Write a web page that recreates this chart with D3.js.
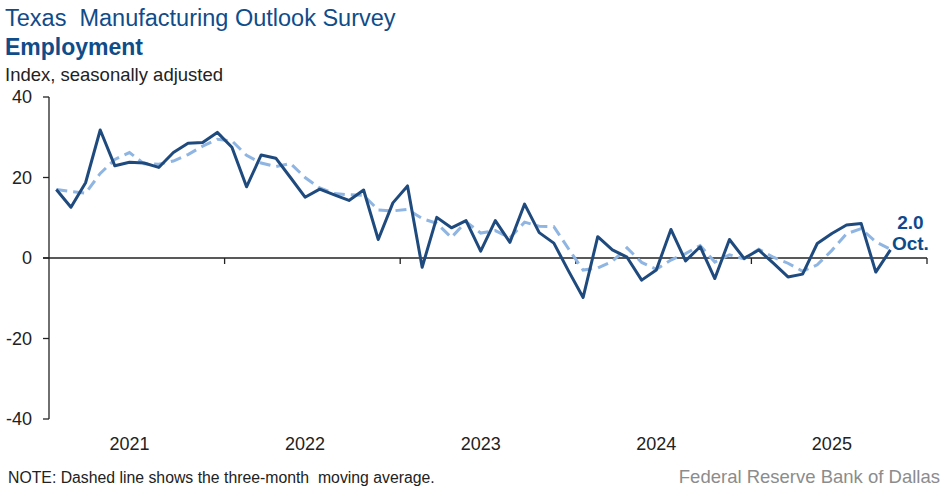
<!DOCTYPE html>
<html>
<head>
<meta charset="utf-8">
<script src="https://cdn.jsdelivr.net/npm/d3@7"></script>
<style>
  body { margin: 0; background: #fff; }
  svg { font-family: "Liberation Sans", Arial, sans-serif; }
  svg text { white-space: pre; }
</style>
</head>
<body>
<div id="chart"></div>
<script>

// monthly index, Jan 2021 .. Oct 2025
var years = ['2021', '2022', '2023', '2024', '2025'];
var yTicks = [-40, -20, 0, 20, 40];
var employment = [
  17.0, 12.6, 18.7, 31.8, 22.9, 23.8, 23.6, 22.5, 26.2, 28.5, 28.7, 31.2,
  27.5, 17.7, 25.6, 24.8, 20.0, 15.1, 17.1, 15.7, 14.3, 16.9, 4.6, 13.7,
  17.9, -2.3, 10.1, 7.5, 9.3, 1.7, 9.3, 3.9, 13.4, 6.3, 3.7, -3.2,
  -9.8, 5.3, 2.0, 0.2, -5.5, -3.0, 7.1, -0.7, 2.8, -5.1, 4.6, -0.1,
  2.0, -1.3, -4.7, -4.0, 3.6, 6.1, 8.2, 8.6, -3.5, 2.0
];
// three-month moving average (dashed)
var movingAvg = [
  17.0, 16.5, 16.1, 21.0, 24.5, 26.2, 23.4, 23.3, 24.1, 25.7, 27.8, 29.5,
  29.1, 25.5, 23.6, 22.7, 23.5, 20.0, 17.4, 16.0, 15.7, 15.6, 11.9, 11.7,
  12.1, 9.8, 8.6, 5.1, 9.0, 6.2, 6.8, 5.0, 8.9, 7.9, 7.8, 2.3,
  -3.0, -2.5, -0.8, 2.5, -1.1, -2.8, -0.5, 1.1, 3.1, -1.0, 0.8, -0.2,
  2.2, 0.2, -1.3, -3.3, -1.7, 1.9, 6.0, 7.3, 4.0, 2.2
];
var lastLabel = '2.0';
var lastMonth = 'Oct.';

var width = 949, height = 493;
var svg = d3.select('#chart').append('svg').attr('width', width).attr('height', height);

var x = d3.scaleLinear().domain([0, years.length * 12]).range([49, 927]);
var y = d3.scaleLinear().domain([-40, 40]).range([419, 97]);

// titles
svg.append('text').attr('x', 5).attr('y', 26).attr('fill', '#0f4c8a')
   .style('font-size', '23.5px').text('Texas  Manufacturing Outlook Survey');
svg.append('text').attr('x', 5).attr('y', 55).attr('fill', '#0f4c8a')
   .style('font-size', '23px').style('font-weight', 'bold').text('Employment');
svg.append('text').attr('x', 5).attr('y', 81).attr('fill', '#222')
   .style('font-size', '18.5px').text('Index, seasonally adjusted');

// y axis
svg.append('line').attr('x1', 49).attr('x2', 49).attr('y1', y(40)).attr('y2', y(-40))
   .attr('stroke', '#222').attr('stroke-width', 1.3);
svg.selectAll('.ytick').data(yTicks).enter().append('line')
   .attr('x1', 43).attr('x2', 49)
   .attr('y1', function (d) { return y(d); }).attr('y2', function (d) { return y(d); })
   .attr('stroke', '#222').attr('stroke-width', 1.3);
svg.selectAll('.ylab').data(yTicks).enter().append('text')
   .attr('x', 32).attr('y', function (d) { return y(d); }).attr('dy', '0.36em')
   .attr('text-anchor', 'end').attr('fill', '#222').style('font-size', '18px')
   .text(function (d) { return d; });

// zero line with year ticks
svg.append('line').attr('x1', 43).attr('x2', x(years.length * 12))
   .attr('y1', y(0)).attr('y2', y(0)).attr('stroke', '#222').attr('stroke-width', 1.3);
svg.selectAll('.xtick').data(years).enter().append('line')
   .attr('x1', function (d, i) { return x((i + 1) * 12); })
   .attr('x2', function (d, i) { return x((i + 1) * 12); })
   .attr('y1', y(0)).attr('y2', y(0) + 6)
   .attr('stroke', '#222').attr('stroke-width', 1.3);
svg.selectAll('.xlab').data(years).enter().append('text')
   .attr('x', function (d, i) { return x(i * 12 + 5.5); }).attr('y', 450)
   .attr('text-anchor', 'middle').attr('fill', '#222').style('font-size', '18px')
   .text(function (d) { return d; });

// lines
var line = d3.line()
  .x(function (d, i) { return x(i + 0.5); })
  .y(function (d) { return y(d); });

svg.append('path').datum(movingAvg).attr('d', line)
   .attr('fill', 'none').attr('stroke', '#8fb5e3').attr('stroke-width', 3)
   .attr('stroke-dasharray', '11,6');
svg.append('path').datum(employment).attr('d', line)
   .attr('fill', 'none').attr('stroke', '#1f4a7e').attr('stroke-width', 3)
   .attr('stroke-linejoin', 'round');

// end label
var li = employment.length - 1;
svg.append('text').attr('x', x(li + 0.5) + 20).attr('y', 229)
   .attr('text-anchor', 'middle').attr('fill', '#0d4a8c')
   .style('font-size', '19px').style('font-weight', 'bold').text(lastLabel);
svg.append('text').attr('x', x(li + 0.5) + 20).attr('y', 250)
   .attr('text-anchor', 'middle').attr('fill', '#0d4a8c')
   .style('font-size', '19px').style('font-weight', 'bold').text(lastMonth);

// footer
svg.append('text').attr('x', 8).attr('y', 483).attr('fill', '#222')
   .style('font-size', '15.8px').text('NOTE: Dashed line shows the three-month  moving average.');
svg.append('text').attr('x', 940).attr('y', 483).attr('text-anchor', 'end').attr('fill', '#8c8c8c')
   .style('font-size', '18.5px').text('Federal Reserve Bank of Dallas');

</script>
</body>
</html>
